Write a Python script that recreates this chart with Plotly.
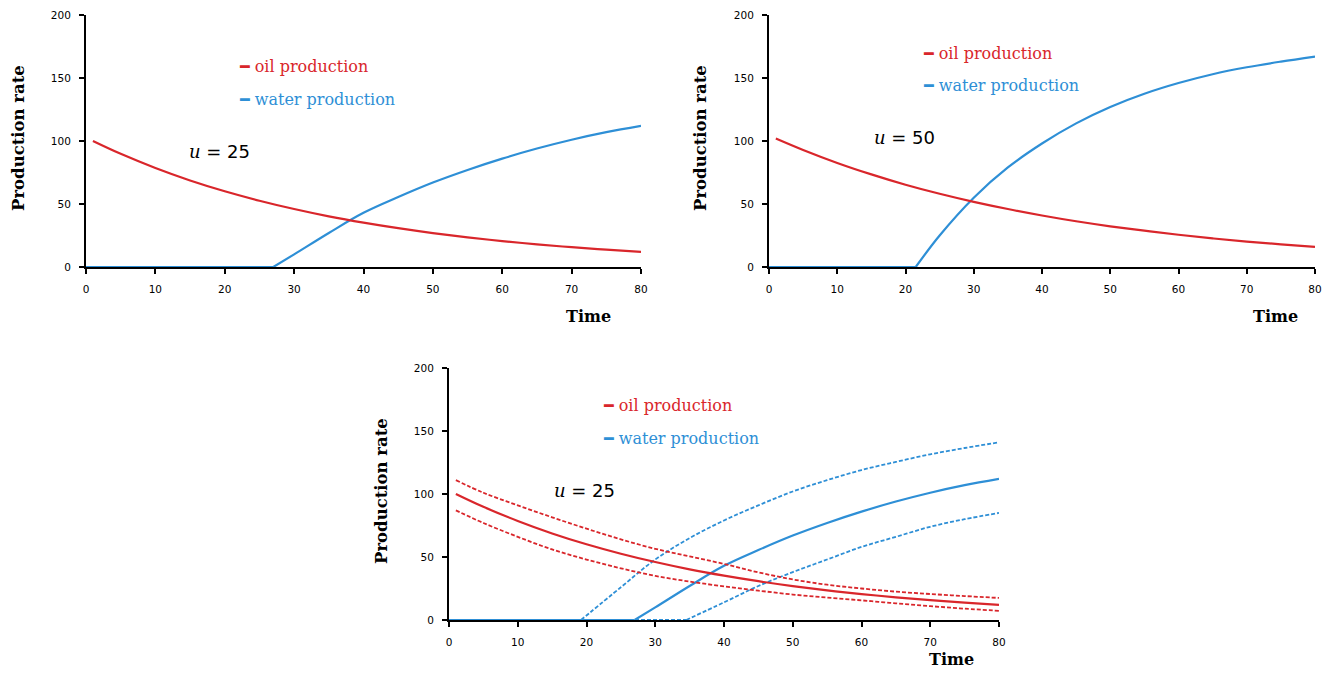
import plotly.graph_objects as go

# ---------------- data ----------------
t_oil = [1, 5, 10, 15, 20, 25, 30, 35, 40, 45, 50, 55, 60, 65, 70, 75, 80]

# u = 25
oil_u25 = [100, 89.8, 78.6, 68.7, 60.1, 52.6, 46.0, 40.2, 35.2, 30.8, 26.9, 23.5, 20.6, 18.0, 15.7, 13.8, 12.0]
t_water_u25 = [0, 27, 30, 35, 40, 45, 50, 55, 60, 65, 70, 75, 80]
water_u25 = [0, 0, 10, 27, 43, 55.5, 67, 77, 86, 94, 101, 107, 112]

# u = 50
oil_u50 = [102, 92.9, 82.6, 73.5, 65.3, 58.1, 51.7, 46.0, 40.9, 36.3, 32.3, 28.8, 25.6, 22.7, 20.2, 18.0, 16.0]
t_water_u50 = [0, 21.5, 25, 30, 35, 40, 45, 50, 55, 60, 65, 70, 75, 80]
water_u50 = [0, 0, 25, 55, 79, 98, 114, 127, 137.5, 146, 153, 158.5, 163, 167]

# u = 25 with uncertainty bands
oil_u25_hi = [111, 101, 91, 81.5, 72.5, 64, 56.5, 50.5, 44.5, 37.8, 32.2, 28, 25, 22.5, 20.6, 19, 17.5]
oil_u25_lo = [87, 77, 66, 56, 48, 41, 35, 30.5, 26.7, 23.3, 20.2, 17.8, 15.6, 13.2, 11, 9, 7.3]
t_water_hi = [0, 19.2, 25, 30, 35, 40, 45, 50, 55, 60, 65, 70, 75, 80]
water_u25_hi = [0, 0, 26, 48, 65, 79, 91, 102, 111, 119, 125.5, 131.5, 136.5, 141]
t_water_lo = [0, 34.5, 40, 45, 50, 55, 60, 65, 70, 75, 80]
water_u25_lo = [0, 0, 14, 27, 38, 48, 58, 66, 74, 80, 85]

x_ticks = [0, 10, 20, 30, 40, 50, 60, 70, 80]
y_ticks = [0, 50, 100, 150, 200]

panel_u = ["25", "50", "25"]

RED = "#D9262B"
BLUE = "#2E8FD6"

fig = go.Figure()

def add_line(x, y, color, axis, dash="solid", width=2.2):
    common = dict(mode="lines", showlegend=False, cliponaxis=False,
                  xaxis="x" + axis, yaxis="y" + axis, hoverinfo="x+y")
    if len(x) > 2 and y[0] == 0 and y[1] == 0:
        fig.add_trace(go.Scatter(x=x[:2], y=y[:2], line=dict(color=color, width=width, dash=dash), **common))
        x, y = x[1:], y[1:]
    fig.add_trace(go.Scatter(x=x, y=y,
                             line=dict(color=color, width=width, dash=dash, shape="spline", smoothing=1.0),
                             **common))

DASH = "4px,2px"
add_line(t_water_u25, water_u25, BLUE, "")
add_line(t_oil, oil_u25, RED, "")
add_line(t_water_u50, water_u50, BLUE, "2")
add_line(t_oil, oil_u50, RED, "2")
add_line(t_water_hi, water_u25_hi, BLUE, "3", dash=DASH, width=1.8)
add_line(t_water_lo, water_u25_lo, BLUE, "3", dash=DASH, width=1.8)
add_line(t_water_u25, water_u25, BLUE, "3")
add_line(t_oil, oil_u25_hi, RED, "3", dash=DASH, width=1.8)
add_line(t_oil, oil_u25_lo, RED, "3", dash=DASH, width=1.8)
add_line(t_oil, oil_u25, RED, "3")

# page has an 8px body margin; size figure so it fits the 1333x680 window
OFF = 8
W, H = 1333 - 2 * OFF, 680 - 2 * OFF
def px_x(p): return (p - OFF) / W
def px_y(p): return 1 - (p - OFF) / H

tick_font = dict(family="DejaVu Sans", size=10.5, color="black")

def axis_common():
    return dict(showgrid=False, zeroline=False, showline=True, linecolor="black", linewidth=2,
                ticks="outside", ticklen=5, tickwidth=1.5, tickcolor="black",
                tickfont=tick_font, mirror=False, fixedrange=True, automargin=False,
                layer="below traces", tickprefix="<b>", ticksuffix="</b>")

panels = [
    ("", 86, 641, 15, 267),
    ("2", 769, 1315, 15, 267),
    ("3", 449, 999, 368, 620),
]

layout = dict(width=W, height=H, margin=dict(l=0, r=0, t=0, b=0, autoexpand=False),
              template="none",
              paper_bgcolor="white", plot_bgcolor="white", showlegend=False)

for suf, x0, x1, yt, yb in panels:
    xa = axis_common()
    xa.update(domain=[px_x(x0), px_x(x1)], range=[0, 80], tickvals=x_ticks,
              anchor="y" + suf, ticklabelstandoff=6)
    ya = axis_common()
    ya.update(domain=[px_y(yb), px_y(yt)], range=[0, 200], tickvals=y_ticks,
              anchor="x" + suf, ticklabelstandoff=6)
    layout["xaxis" + suf] = xa
    layout["yaxis" + suf] = ya

fig.update_layout(**layout)

serif = "DejaVu Serif"
annotations = []
legend_pos = [("", 21.8, 159.5, 133.3, 14.6, 92),
              ("2", 22.3, 169.8, 143.7, 15.1, 103),
              ("3", 22.1, 170.6, 144.4, 15.0, 103)]
for i, (suf, lx, ly_oil, ly_wat, ux, uy) in enumerate(legend_pos):
    for txt, col, ly in [("oil production", RED, ly_oil), ("water production", BLUE, ly_wat)]:
        annotations.append(dict(
            x=lx, y=ly, xref="x" + suf, yref="y" + suf, xanchor="left", yanchor="middle",
            showarrow=False,
            text="<span style='font-family:DejaVu Sans'><b>━</b></span> " + txt,
            font=dict(family=serif, size=16, color=col)))
    annotations.append(dict(
        x=ux, y=uy, xref="x" + suf, yref="y" + suf, xanchor="left", yanchor="middle",
        showarrow=False,
        text="<span style='font-family:DejaVu Serif'><i>u</i></span> = " + panel_u[i],
        font=dict(family="DejaVu Sans", size=18, color="black")))

for cx, cy in [(18, 138), (700, 138), (381, 491)]:
    annotations.append(dict(x=px_x(cx), y=px_y(cy), xref="paper", yref="paper",
                            xanchor="center", yanchor="middle", showarrow=False, textangle=-90,
                            text="<b>Production rate</b>",
                            font=dict(family=serif, size=16.5, color="black")))
for cx, cy, yanc in [(588, 316, "middle"), (1275, 316, "middle"), (951, 671, "bottom")]:
    annotations.append(dict(x=px_x(cx), y=px_y(cy), xref="paper", yref="paper",
                            xanchor="center", yanchor=yanc, showarrow=False,
                            text="<b>Time</b>",
                            font=dict(family=serif, size=16, color="black")))

fig.update_layout(annotations=annotations)
fig.write_html("out.html")
